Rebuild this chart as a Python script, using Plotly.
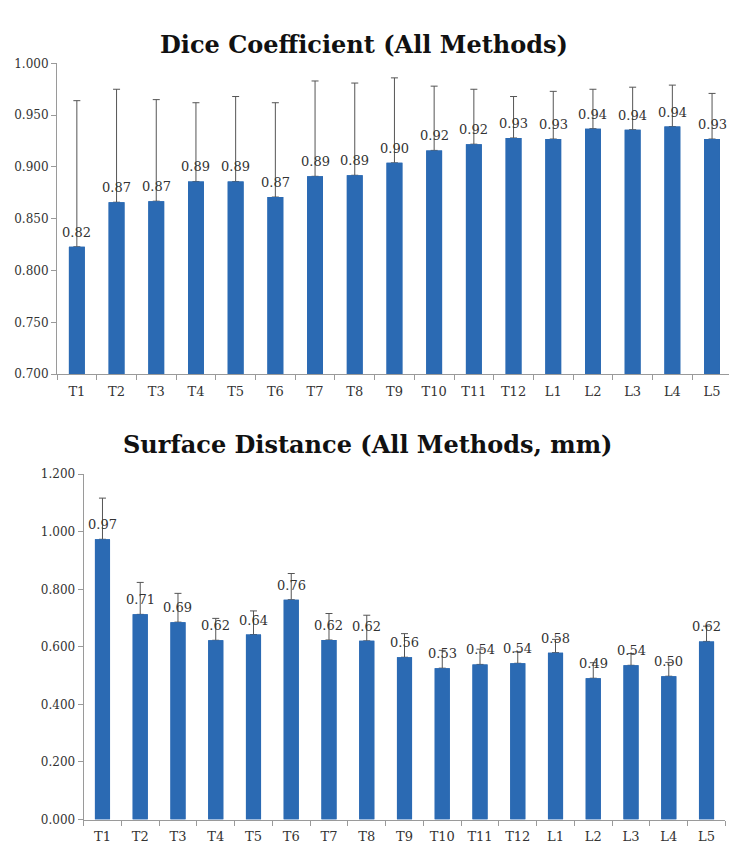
import plotly.graph_objects as go

# Methods compared
methods = ["T1", "T2", "T3", "T4", "T5", "T6", "T7", "T8", "T9", "T10",
           "T11", "T12", "L1", "L2", "L3", "L4", "L5"]

# Dice coefficient: mean and standard deviation per method
dice_mean = [0.823, 0.866, 0.867, 0.886, 0.886, 0.871, 0.891, 0.892, 0.904, 0.916,
             0.922, 0.928, 0.927, 0.937, 0.936, 0.939, 0.927]
dice_sd = [0.141, 0.109, 0.098, 0.076, 0.082, 0.091, 0.092, 0.089, 0.082, 0.062,
           0.053, 0.040, 0.046, 0.038, 0.041, 0.040, 0.044]

# Surface distance (mm): mean and standard deviation per method
surf_mean = [0.974, 0.713, 0.686, 0.623, 0.643, 0.764, 0.624, 0.621, 0.564, 0.526,
             0.539, 0.543, 0.580, 0.491, 0.536, 0.498, 0.619]
surf_sd = [0.143, 0.111, 0.100, 0.076, 0.082, 0.091, 0.092, 0.089, 0.082, 0.062,
           0.053, 0.040, 0.046, 0.054, 0.041, 0.048, 0.053]

dice_ticks = [0.70, 0.75, 0.80, 0.85, 0.90, 0.95, 1.00]
surf_ticks = [0.0, 0.2, 0.4, 0.6, 0.8, 1.0, 1.2]

BAR = "#2B6AB3"
ERR = "#555555"
AXIS = "#9A9A9A"
TXT = "#333333"
FONT = "DejaVu Serif"

W, H = 729, 857

fig = go.Figure()


def add_panel(fig, xa, ya, means, sds):
    # bar with upward-only error whisker
    fig.add_trace(go.Bar(
        x=methods, y=means, xaxis=xa, yaxis=ya,
        marker=dict(color=BAR, line=dict(width=0)),
        error_y=dict(type="data", array=sds, arrayminus=[0] * len(sds),
                     symmetric=False, color=ERR, thickness=1, width=3.5),
        showlegend=False, hoverinfo="skip",
    ))
    # same bars again on top, hiding the lower whisker cap
    fig.add_trace(go.Bar(
        x=methods, y=means, xaxis=xa, yaxis=ya,
        marker=dict(color=BAR, line=dict(width=0)),
        showlegend=False, hoverinfo="skip",
    ))
    for m, v in zip(methods, means):
        fig.add_annotation(
            x=m, y=v, xref=xa, yref=ya, text=f"{v:.2f}",
            showarrow=False, yanchor="bottom", yshift=5,
            font=dict(family=FONT, size=13, color=TXT),
        )


add_panel(fig, "x", "y", dice_mean, dice_sd)
add_panel(fig, "x2", "y2", surf_mean, surf_sd)

common_x = dict(
    type="category", showline=True, linecolor=AXIS, linewidth=1,
    ticks="outside", tickson="boundaries", ticklen=5, tickcolor=AXIS,
    ticklabelstandoff=5,
    tickfont=dict(family=FONT, size=13, color=TXT), showgrid=False,
    zeroline=False, fixedrange=True,
)
common_y = dict(
    showline=True, linecolor=AXIS, linewidth=1, ticks="outside", ticklen=5,
    tickcolor=AXIS, tickformat=".3f", showgrid=False, zeroline=False,
    tickfont=dict(family=FONT, size=12, color=TXT), fixedrange=True,
)

# top panel: plot area starts at 57 px and runs just past the right edge
top_px_left, top_step = 57.0, 39.7
top_right = -0.5 + (W - top_px_left) / top_step

fig.update_layout(
    width=W, height=H,
    margin=dict(l=0, r=0, t=0, b=0),
    paper_bgcolor="white", plot_bgcolor="white",
    barmode="overlay", bargap=0.6,
    xaxis=dict(common_x, domain=[top_px_left / W, 1.0], range=[-0.5, top_right],
               anchor="y"),
    yaxis=dict(common_y, domain=[1 - 373.3 / H, 1 - 57.3 / H], range=[0.7, 1.0],
               tickvals=dice_ticks, anchor="x"),
    xaxis2=dict(common_x, domain=[83.6 / W, 725.4 / W], range=[-0.5, 16.5],
                anchor="y2"),
    yaxis2=dict(common_y, domain=[1 - 826 / H, 1 - 475 / H], range=[0, 1.2],
                tickvals=surf_ticks, anchor="x2"),
)

fig.add_annotation(
    x=364 / W, y=1 - 21 / H, xref="paper", yref="paper", showarrow=False,
    text="<b>Dice Coefficient (All Methods)</b>",
    font=dict(family=FONT, size=24, color="#111111"),
)
fig.add_annotation(
    x=367 / W, y=1 - 445 / H, xref="paper", yref="paper", showarrow=False,
    text="<b>Surface Distance (All Methods, mm)</b>",
    font=dict(family=FONT, size=24, color="#111111"),
)

fig.write_html("out.html")
